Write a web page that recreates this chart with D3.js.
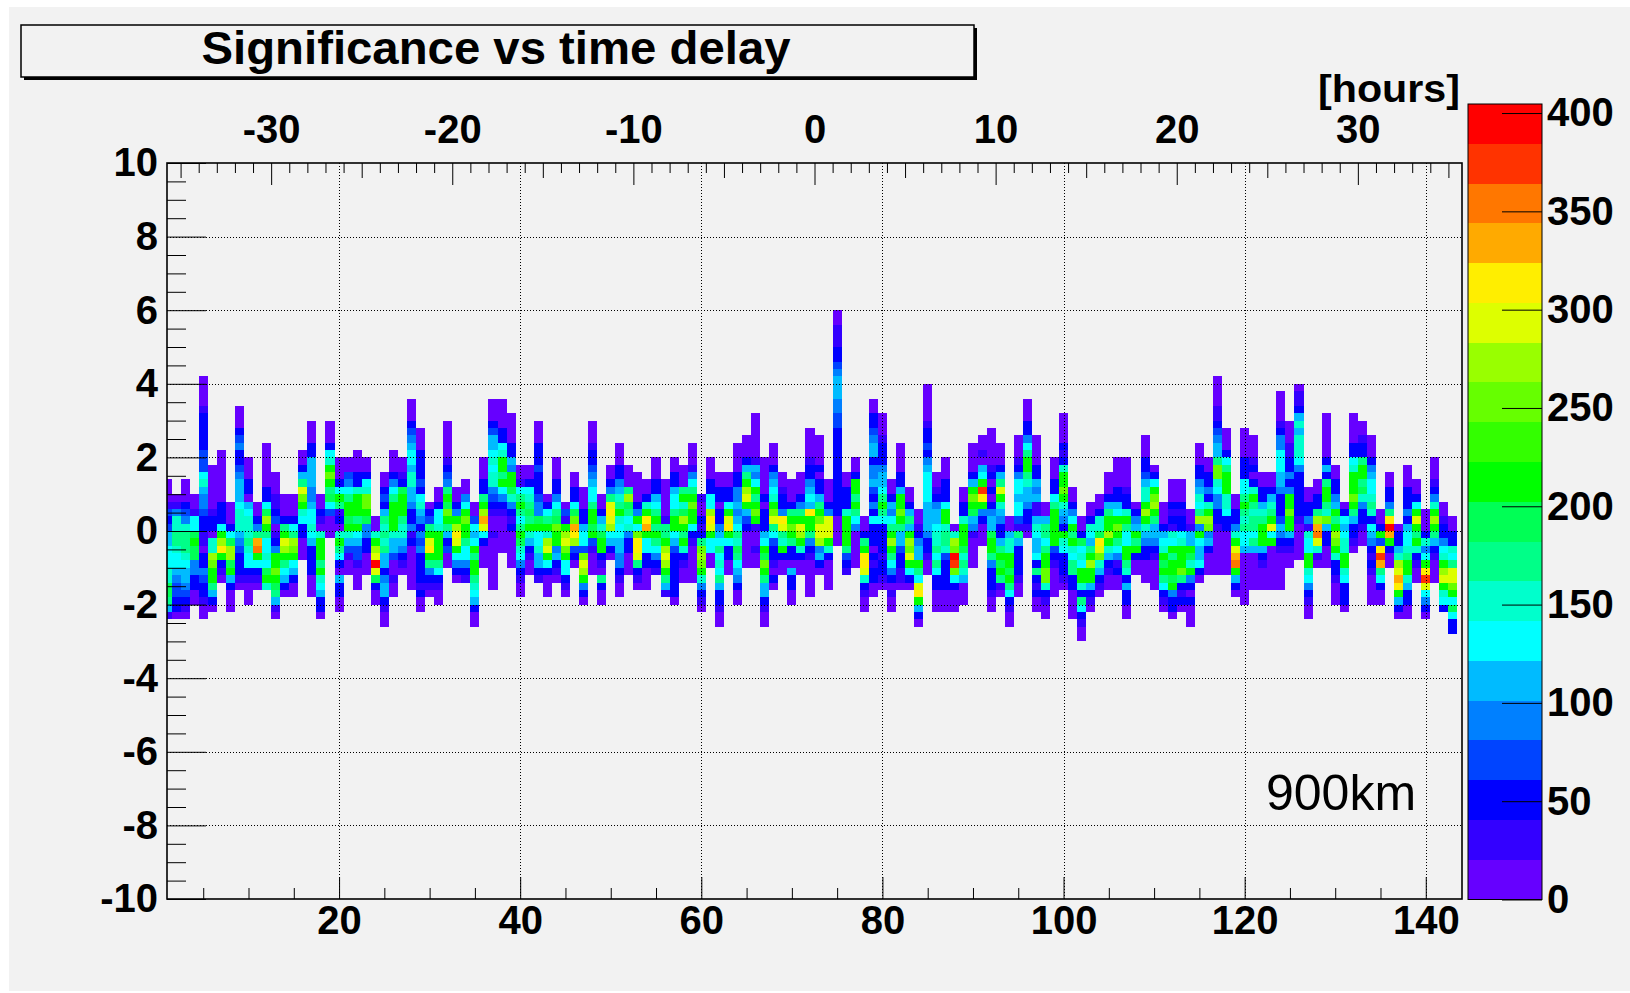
<!DOCTYPE html>
<html>
<head>
<meta charset="utf-8">
<script src="https://cdn.jsdelivr.net/npm/d3@7"></script>
<style>
  body { margin: 0; background: #fff; }
  svg { display: block; }
  text { font-family: "Liberation Sans", Arial, Helvetica, sans-serif; }
</style>
</head>
<body>
<div id="chart"></div>
<script>
'use strict'

// top y-bin of each column (bin r covers r*0.2 .. r*0.2+0.2), columns are x bins 1..143
const columnTop = [
  6, 4, 6, 4, 20, 8, 10, 3, 16, 9,
  3, 11, 7, 4, 4, 10, 14, 4, 14, 9,
  9, 10, 9, 1, 7, 10, 9, 17, 13, 3,
  5, 14, 5, 6, 3, 9, 17, 17, 15, 8,
  8, 14, 4, 9, 3, 7, 5, 14, 4, 8,
  11, 8, 7, 6, 9, 6, 9, 8, 11, 4,
  9, 7, 7, 11, 12, 15, 9, 11, 7, 6,
  7, 13, 12, 6, 29, 7, 9, 1, 17, 15,
  6, 11, 5, 2, 19, 7, 9, 0, 5, 11,
  12, 13, 11, 1, 12, 17, 12, 3, 9, 15,
  5, 1, 3, 4, 7, 9, 9, 3, 12, 8,
  3, 6, 6, 2, 11, 9, 20, 13, 4, 13,
  12, 7, 7, 18, 14, 19, 5, 6, 15, 8,
  3, 15, 14, 12, 2, 7, 0, 8, 6, 2,
  9, 3, 1
]

// content of each column from its top bin downwards, one char per bin:
// palette level 0..19 written as '0'-'9','a'-'j'
const columnLevels = [
  '0001323556667799851', '01477887665433220', '0002347888765543210', '001669a99442200', '000012222233367544322110224322100',
  '000000122077dcaa8520', '00000002226adfa210', '000269dd9a52000', '0002342234555677754322210', '00022056777876621000',
  '00248gha6210', '0000002269da866769a7', '00011230124aaca98510', '00028aeda86520', '000268dca65200',
  '00258eca7622000', '000225555445667652222000', '002107aaa8a765220', '000267aca8963000', '00026a81207a862052200',
  '003468aa9a753100', '000227aaa8a65331000', '00267cca94422000', '007adeje9200', '002325878785524552100',
  '0002468aaaa755300100', '00129aaa87754210', '00023456657755422412000000', '0002222326754243422221200', '0238aefa84210',
  '002667aaaa862100', '0000012348a9ca852300', '0024adfea6420', '0046acaa866421', '003656a8aa8765200',
  '000228adge62000', '00023556767743210010000000', '00002267aa8a642100000', '00002254aa97421200000', '00168a868a97642100',
  '00267898a752100', '00022232223449a6675521', '0268a7dea62000', '000224689caa45210', '031adeca66210',
  '002269cgfd320', '000225663ceda420', '000122345668aa9a31000', '002579aa2108200', '00248efed6520',
  '000224578a76655442100', '0008d9867422000', '000024a6cffe8210', '0027afga6622000', '00022568a8a86421',
  '00000188adeda851', '00225668aa6532222220', '0008a79da8a72100', '0001468acaa62100000', '1002128cdca74210',
  '0002266dfea6600', '002202245686768522100', '00226aefa62200', '0000224454568798654200', '000258adea53200000',
  '0000001546a8aca100100', '000002022256a9ca8552100', '00024567ace863221020', '001224fe87a200', '00028aca822052200',
  '000248aeda7200', '00001224565faa842100000', '0000202258aceed4520', '00024eeea720000', '00111223455544332222222222220000',
  '002227aaaa8321', '002aa8a86400000', '0028affe72100', '002234552445324262220212200', '000122245568a86222212210',
  '0025468ada86420100', '0000225aaca855322110', '002585adcea620', '0012455a86efa520', '00000122324566665555422100',
  '0012455677868622000', '0002226aa788732222000', '07dcjic62000', '00227aaa97875000', '000025aca95410000',
  '001056aifa42000', '000001202024559aa84222100', '000258ea7542258a9a810', '00577aa9a862100', '0001246656631852222100',
  '00022468aa875542210', '000022545115765562821200', '0058868aacc72100', '0002268aaaaa3210000', '00002127aaca7542a7622210',
  '00246a8a7688220000', '0029676aa72862100', '0027658adaa5210', '002779fec75210', '000258aada752100',
  '00002256aca8641200', '00001227a866aa87252200', '0245a8a200', '000223577ada75422000', '026acda8554210000',
  '0002567a9a86210', '000212176a8aa9a4220', '000212267aaac82120', '00155a97a4202000', '0002245768d4a655620',
  '0022427adc452000', '000011234558cc7644221000000', '000268aaa77622000000', '002247aegha520', '0000222668a8786650000000',
  '00012027a878868500000', '0022578aaa521000', '002578ae6a000000', '000012446665542223542100000', '0001122424aacaa52100',
  '011257577764222222100000', '002241766aa7642100', '00228dghe710', '0000002528aa87c522000', '002245a8adca7221000',
  '0265677aa762220', '00002267aaaca852210', '001228aa897422100', '00024566787265421210000', '002a3fig86200',
  '002248fjga200', '02257degfa520', '0002224256678aa752200', '0026aea8a72100', '0002746afie6420',
  '0001247ada8521000', '00122467adea762', '0022768eeca69622'
]

const zMax = 404.6
const paletteColors = [
  '#6600ff', '#3300ff', '#0000ff', '#0044ff', '#0080ff',
  '#00bbff', '#00ffff', '#00ffcc', '#00ff88', '#00ff55',
  '#00ff00', '#33ff00', '#66ff00', '#99ff00', '#ddff00',
  '#ffee00', '#ffaa00', '#ff7700', '#ff3300', '#ff0000'
]

const bottomTicks = [20, 40, 60, 80, 100, 120, 140]
const leftTicks = [-10, -8, -6, -4, -2, 0, 2, 4, 6, 8, 10]
const hourTicks = [-30, -20, -10, 0, 10, 20, 30]
const zTicks = [0, 50, 100, 150, 200, 250, 300, 350, 400]

const W = 1630
const H = 993
const frame = { left: 167, right: 1462, top: 163, bottom: 899 }
const bar = { left: 1468, right: 1542, top: 104, bottom: 899.5 }
const labelSize = 40

const svg = d3.select('#chart')
  .append('svg')
  .attr('width', W)
  .attr('height', H)

svg.append('rect')
  .attr('x', 9).attr('y', 7)
  .attr('width', W - 9).attr('height', H - 9)
  .attr('fill', '#f2f2f2')

const x = d3.scaleLinear().domain([1, 144]).range([frame.left, frame.right])
const hours = d3.scaleLinear().domain([-35.75, 35.75]).range([frame.left, frame.right])
const y = d3.scaleLinear().domain([-10, 10]).range([frame.bottom, frame.top])
const z = d3.scaleLinear().domain([0, zMax]).range([bar.bottom, bar.top])
const color = d3.scaleQuantize().domain([0, zMax]).range(paletteColors)
const step = zMax / paletteColors.length

// cells
const cells = []
columnLevels.forEach(function(s, i) {
  for (let j = 0; j < s.length; j++) {
    if (s[j] === '.') continue
    const level = parseInt(s[j], 20)
    cells.push({ bin: i + 1, row: columnTop[i] - j, value: (level + 0.5) * step })
  }
})

svg.append('clipPath').attr('id', 'frameClip')
  .append('rect')
  .attr('x', frame.left).attr('y', frame.top)
  .attr('width', frame.right - frame.left).attr('height', frame.bottom - frame.top)

svg.append('g')
  .attr('clip-path', 'url(#frameClip)')
  .attr('shape-rendering', 'crispEdges')
  .selectAll('rect')
  .data(cells)
  .enter()
  .append('rect')
  .attr('x', d => x(d.bin - 0.5))
  .attr('width', d => x(d.bin + 0.5) - x(d.bin - 0.5))
  .attr('y', d => y(d.row * 0.2 + 0.2))
  .attr('height', d => y(d.row * 0.2) - y(d.row * 0.2 + 0.2))
  .attr('fill', d => color(d.value))

// grid
const grid = svg.append('g')
  .attr('stroke', '#000')
  .attr('stroke-width', 1)
  .attr('stroke-dasharray', '1,2')
grid.selectAll('line.gx')
  .data(bottomTicks)
  .enter().append('line')
  .attr('x1', d => Math.round(x(d)) + 0.5).attr('x2', d => Math.round(x(d)) + 0.5)
  .attr('y1', frame.top).attr('y2', frame.bottom)
grid.selectAll('line.gy')
  .data(leftTicks.filter(d => d > -10 && d < 10))
  .enter().append('line')
  .attr('y1', d => Math.round(y(d)) + 0.5).attr('y2', d => Math.round(y(d)) + 0.5)
  .attr('x1', frame.left).attr('x2', frame.right)

function styleAxis(g) {
  g.attr('font-family', null).attr('font-size', null)
  g.select('.domain').remove()
  g.selectAll('.tick line').attr('stroke', '#000').attr('stroke-width', 1)
  g.selectAll('.tick text')
    .attr('fill', '#000')
    .attr('font-size', labelSize)
    .attr('font-weight', 'bold')
}

const fmt = d => String(d)

// bottom axis
const bottomMinor = d3.range(5, 144, 5).filter(d => bottomTicks.indexOf(d) < 0)
svg.append('g').attr('transform', 'translate(0,' + frame.bottom + ')')
  .call(d3.axisBottom(x).tickValues(bottomMinor).tickSize(-11).tickFormat(''))
  .call(styleAxis)
svg.append('g').attr('transform', 'translate(0,' + frame.bottom + ')')
  .call(d3.axisBottom(x).tickValues(bottomTicks).tickSize(-22).tickPadding(7).tickFormat(fmt))
  .call(styleAxis)

// left axis
const leftMinor = d3.range(-19, 20).map(d => d / 2).filter(d => leftTicks.indexOf(d) < 0)
svg.append('g').attr('transform', 'translate(' + frame.left + ',0)')
  .call(d3.axisLeft(y).tickValues(leftMinor).tickSize(-19).tickFormat(''))
  .call(styleAxis)
svg.append('g').attr('transform', 'translate(' + frame.left + ',0)')
  .call(d3.axisLeft(y).tickValues(leftTicks).tickSize(-39).tickPadding(9).tickFormat(fmt))
  .call(styleAxis)

// top axis in hours
const hourMinor = d3.range(-35, 36).filter(d => d % 5 !== 0)
const hourMid = d3.range(-35, 36, 10)
svg.append('g').attr('transform', 'translate(0,' + frame.top + ')')
  .call(d3.axisTop(hours).tickValues(hourMinor).tickSize(-10).tickFormat(''))
  .call(styleAxis)
svg.append('g').attr('transform', 'translate(0,' + frame.top + ')')
  .call(d3.axisTop(hours).tickValues(hourMid).tickSize(-15).tickFormat(''))
  .call(styleAxis)
svg.append('g').attr('transform', 'translate(0,' + frame.top + ')')
  .call(d3.axisTop(hours).tickValues(hourTicks).tickSize(-22).tickPadding(20).tickFormat(fmt))
  .call(styleAxis)

svg.append('text')
  .attr('x', 1460).attr('y', 102)
  .attr('text-anchor', 'end')
  .attr('font-size', 38).attr('font-weight', 'bold')
  .attr('textLength', 142).attr('lengthAdjust', 'spacingAndGlyphs')
  .text('[hours]')

// frame
svg.append('rect')
  .attr('x', frame.left).attr('y', frame.top)
  .attr('width', frame.right - frame.left).attr('height', frame.bottom - frame.top)
  .attr('fill', 'none').attr('stroke', '#000').attr('stroke-width', 1.6)

// colour bar
svg.append('g')
  .attr('shape-rendering', 'crispEdges')
  .selectAll('rect')
  .data(paletteColors.map((c, i) => i))
  .enter().append('rect')
  .attr('x', bar.left).attr('width', bar.right - bar.left)
  .attr('y', i => z((i + 1) * step))
  .attr('height', i => z(i * step) - z((i + 1) * step))
  .attr('fill', i => color((i + 0.5) * step))
svg.append('rect')
  .attr('x', bar.left).attr('y', bar.top)
  .attr('width', bar.right - bar.left).attr('height', bar.bottom - bar.top)
  .attr('fill', 'none').attr('stroke', '#000').attr('stroke-width', 1)
svg.append('g').attr('transform', 'translate(' + bar.right + ',0)')
  .call(d3.axisRight(z).tickValues(zTicks).tickSize(-40).tickPadding(5).tickFormat(fmt))
  .call(styleAxis)

// title box
svg.append('rect')
  .attr('x', 24).attr('y', 28).attr('width', 953).attr('height', 52)
  .attr('fill', '#000')
svg.append('rect')
  .attr('x', 21).attr('y', 25).attr('width', 953).attr('height', 52)
  .attr('fill', '#f2f2f2').attr('stroke', '#000').attr('stroke-width', 1.5)
svg.append('text')
  .attr('x', 496).attr('y', 64)
  .attr('text-anchor', 'middle')
  .attr('font-size', 46).attr('font-weight', 'bold')
  .attr('textLength', 589).attr('lengthAdjust', 'spacingAndGlyphs')
  .text('Significance vs time delay')

svg.append('text')
  .attr('x', 1266).attr('y', 810)
  .attr('font-size', 50)
  .text('900km')
</script>
</body>
</html>
